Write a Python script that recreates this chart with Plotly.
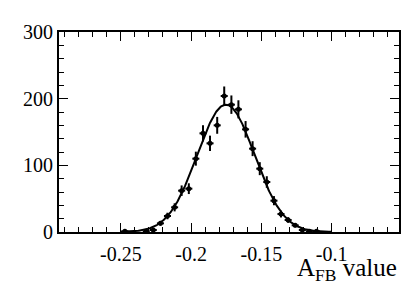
import numpy as np
import plotly.graph_objects as go

# bin centres (A_FB) and counts
afb_centres = [-0.2471, -0.2319, -0.2269, -0.2218, -0.2168, -0.2117, -0.2067, -0.2016,
               -0.1966, -0.1915, -0.1865, -0.1814, -0.1764, -0.1713, -0.1663, -0.1612,
               -0.1562, -0.1511, -0.1461, -0.1410, -0.1360, -0.1309, -0.1259, -0.1208,
               -0.1158, -0.1107]
counts = [1, 1, 3, 13, 24, 37, 62, 65,
          110, 148, 133, 160, 204, 191, 184, 154,
          125, 95, 75, 47, 27, 18, 10, 3,
          1, 1]
bin_half_width = 0.0025

# Gaussian fit parameters
fit_amp = 191.0
fit_mean = -0.1752
fit_sigma = 0.0204
fit_lo, fit_hi = -0.25, -0.10

x_ticks = [-0.25, -0.2, -0.15, -0.1]
x_tick_labels = ["-0.25", "-0.2", "-0.15", "-0.1"]
y_ticks = [0, 100, 200, 300]
y_tick_labels = ["0", "100", "200", "300"]

errs = [np.sqrt(c) for c in counts]
xf = np.linspace(fit_lo, fit_hi, 400)
yf = fit_amp * np.exp(-0.5 * ((xf - fit_mean) / fit_sigma) ** 2)

font = "Liberation Serif"

fig = go.Figure()
fig.add_trace(go.Scatter(x=xf, y=yf, mode="lines",
                         line=dict(color="black", width=2), hoverinfo="skip"))
fig.add_trace(go.Scatter(
    x=afb_centres, y=counts, mode="markers",
    marker=dict(color="black", size=5, symbol="circle"),
    error_y=dict(type="data", array=errs, visible=True, thickness=2, width=0, color="black"),
    error_x=dict(type="constant", value=bin_half_width, visible=True, thickness=2, width=0, color="black"),
))

axis_common = dict(
    showgrid=False, zeroline=False, showline=True, linecolor="black", linewidth=2,
    mirror="allticks", ticks="inside", ticklen=9, tickwidth=1, tickcolor="black",
    tickfont=dict(family=font, size=20, color="black"),
)

fig.update_xaxes(range=[-0.294, -0.052], tickvals=x_ticks, ticktext=x_tick_labels,
                 ticklabelstandoff=3,
                 minor=dict(dtick=0.01, tick0=-0.25, ticks="inside", ticklen=5, tickcolor="black"),
                 **axis_common)
fig.update_yaxes(range=[0, 300], tickvals=y_ticks, ticktext=y_tick_labels,
                 minor=dict(dtick=20, tick0=0, ticks="inside", ticklen=5, tickcolor="black"),
                 **axis_common)

fig.add_annotation(text="A<sub>FB</sub> value", xref="paper", yref="paper",
                   x=1.0, y=-0.185, xanchor="right", yanchor="middle", showarrow=False,
                   font=dict(family=font, size=25, color="black"))

fig.update_layout(width=419, height=284, margin=dict(l=59, r=20, t=32, b=52),
                  paper_bgcolor="white", plot_bgcolor="white", showlegend=False,
                  font=dict(family=font, color="black"))

fig.write_html("out.html", config={"displayModeBar": False},
               post_script="document.body.style.margin='0';document.body.style.overflow='hidden';")
